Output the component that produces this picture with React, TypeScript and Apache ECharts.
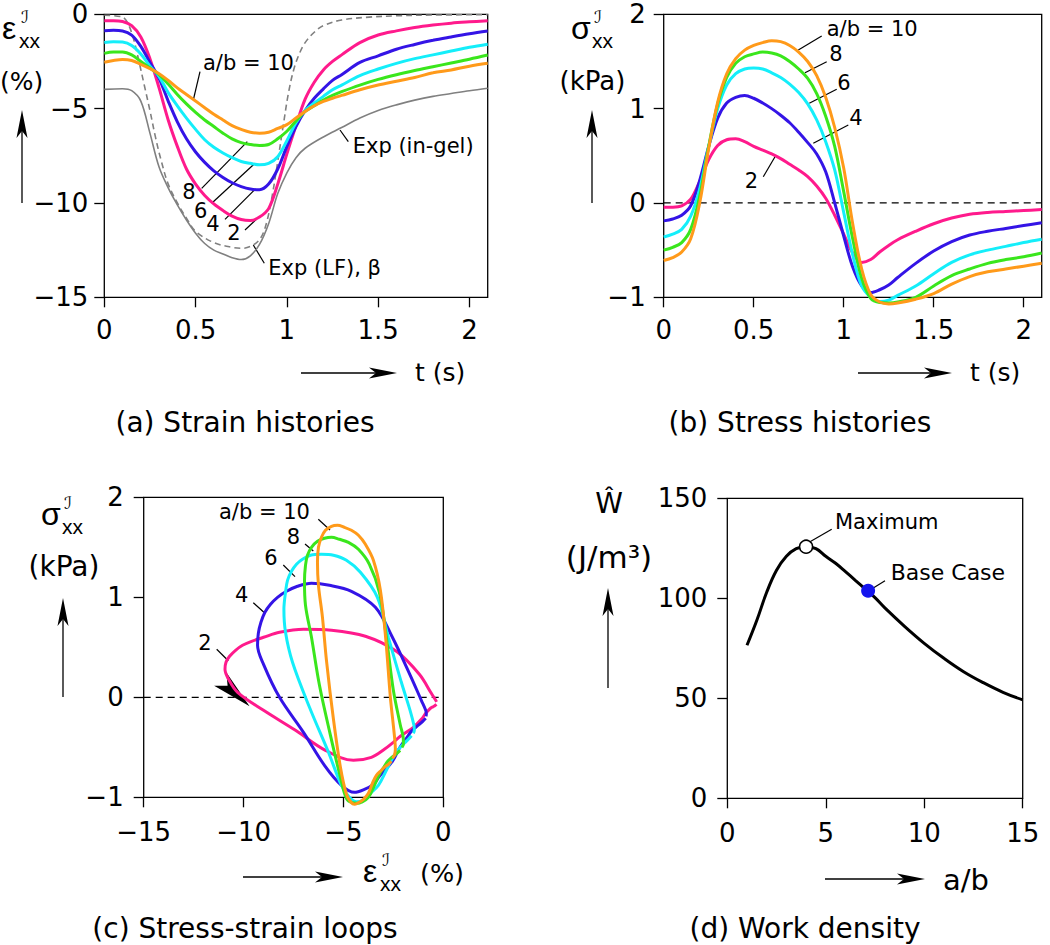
import React, { useEffect, useRef } from 'react';
import * as echarts from 'echarts';

// ---------- data ----------
const T = [0, 0.05, 0.1, 0.15, 0.2, 0.25, 0.3, 0.35, 0.4, 0.45, 0.5, 0.55, 0.6, 0.65, 0.7, 0.75, 0.8, 0.85, 0.9, 0.95, 1.0, 1.05, 1.1, 1.15, 1.2, 1.25, 1.3, 1.4, 1.5, 1.6, 1.7, 1.8, 1.9, 2.0, 2.1];

const RATIOS = ['2', '4', '6', '8', '10'];
const COLORS = ['#ff1a8c', '#3414e6', '#14eefa', '#3ae61c', '#ff9a1a'];

const STRAIN_2 = [-0.34, -0.34, -0.38, -0.6, -1.2, -2.35, -3.9, -5.6, -7.0, -8.2, -9.0, -9.6, -10.05, -10.4, -10.7, -10.88, -10.93, -10.75, -10.3, -9.0, -7.4, -5.9, -4.5, -3.6, -2.95, -2.5, -2.15, -1.5, -1.1, -0.88, -0.7, -0.57, -0.47, -0.4, -0.34];
const STRAIN_4 = [-0.87, -0.85, -0.88, -1.1, -1.7, -2.55, -3.4, -4.6, -5.7, -6.6, -7.3, -7.85, -8.3, -8.65, -8.93, -9.13, -9.26, -9.3, -9.0, -8.2, -7.0, -5.95, -5.1, -4.45, -3.95, -3.5, -3.2, -2.55, -2.2, -1.85, -1.6, -1.38, -1.2, -1.03, -0.88];
const STRAIN_6 = [-1.5, -1.45, -1.47, -1.65, -2.1, -2.75, -3.3, -4.15, -4.85, -5.5, -6.1, -6.65, -7.05, -7.35, -7.6, -7.8, -7.9, -7.98, -7.9, -7.55, -6.7, -5.75, -5.1, -4.7, -4.35, -4.0, -3.75, -3.25, -2.9, -2.6, -2.35, -2.15, -1.95, -1.75, -1.59];
const STRAIN_8 = [-2.07, -2.0, -2.0, -2.15, -2.5, -2.85, -3.2, -3.7, -4.25, -4.75, -5.2, -5.6, -5.95, -6.3, -6.6, -6.8, -6.9, -6.95, -6.9, -6.6, -6.2, -5.65, -5.15, -4.85, -4.55, -4.3, -4.1, -3.75, -3.45, -3.2, -2.98, -2.78, -2.58, -2.38, -2.16];
const STRAIN_10 = [-2.54, -2.45, -2.4, -2.45, -2.65, -2.88, -3.15, -3.5, -3.9, -4.25, -4.6, -4.95, -5.3, -5.6, -5.9, -6.1, -6.25, -6.3, -6.25, -6.05, -5.85, -5.5, -5.15, -4.85, -4.62, -4.45, -4.3, -4.0, -3.75, -3.55, -3.35, -3.1, -2.95, -2.75, -2.6];

const STRESS_2 = [-0.046, -0.045, -0.03, 0.04, 0.23, 0.46, 0.61, 0.67, 0.68, 0.65, 0.6, 0.56, 0.52, 0.47, 0.41, 0.35, 0.28, 0.18, 0.05, -0.13, -0.33, -0.53, -0.63, -0.6, -0.52, -0.45, -0.39, -0.3, -0.22, -0.16, -0.12, -0.1, -0.09, -0.08, -0.07];
const STRESS_4 = [-0.19, -0.17, -0.13, -0.03, 0.24, 0.6, 0.9, 1.06, 1.12, 1.14, 1.11, 1.06, 1.0, 0.93, 0.85, 0.75, 0.64, 0.52, 0.33, 0.0, -0.35, -0.68, -0.88, -0.95, -0.92, -0.87, -0.79, -0.64, -0.51, -0.41, -0.34, -0.3, -0.27, -0.24, -0.21];
const STRESS_6 = [-0.36, -0.33, -0.28, -0.14, 0.15, 0.6, 1.0, 1.25, 1.37, 1.42, 1.43, 1.42, 1.38, 1.33, 1.26, 1.17, 1.05, 0.88, 0.65, 0.35, -0.1, -0.55, -0.88, -1.0, -1.045, -1.03, -0.98, -0.88, -0.75, -0.63, -0.55, -0.5, -0.46, -0.42, -0.385];
const STRESS_8 = [-0.5, -0.47, -0.42, -0.28, 0.07, 0.6, 1.05, 1.33, 1.48, 1.55, 1.58, 1.6, 1.59, 1.56, 1.5, 1.42, 1.32, 1.16, 0.92, 0.6, 0.12, -0.38, -0.8, -1.01, -1.055, -1.06, -1.05, -1.0, -0.88, -0.77, -0.7, -0.64, -0.6, -0.57, -0.53];
const STRESS_10 = [-0.61, -0.58, -0.52, -0.38, 0.0, 0.58, 1.07, 1.37, 1.53, 1.62, 1.67, 1.7, 1.72, 1.71, 1.67, 1.6, 1.5, 1.35, 1.12, 0.8, 0.37, -0.22, -0.7, -0.97, -1.05, -1.07, -1.06, -1.02, -0.96, -0.86, -0.78, -0.73, -0.7, -0.67, -0.64];

const STRAINS = [STRAIN_2, STRAIN_4, STRAIN_6, STRAIN_8, STRAIN_10];
const STRESSES = [STRESS_2, STRESS_4, STRESS_6, STRESS_8, STRESS_10];

// experiments (panel a)
const EXP_GEL_T = [0, 0.1, 0.15, 0.2, 0.25, 0.3, 0.35, 0.4, 0.45, 0.5, 0.55, 0.6, 0.65, 0.7, 0.75, 0.8, 0.85, 0.9, 0.95, 1.0, 1.05, 1.1, 1.2, 1.3, 1.4, 1.5, 1.6, 1.7, 1.8, 1.9, 2.0, 2.1];
const EXP_GEL = [-3.98, -3.95, -4.05, -4.6, -6.3, -8.1, -9.2, -10.1, -10.9, -11.6, -12.15, -12.5, -12.7, -12.9, -13.0, -12.8, -12.2, -11.1, -9.5, -8.4, -7.6, -7.1, -6.5, -6.0, -5.5, -5.1, -4.8, -4.55, -4.35, -4.2, -4.05, -3.92];
const EXP_LF_T = [0, 0.1, 0.13, 0.16, 0.19, 0.22, 0.25, 0.28, 0.31, 0.35, 0.4, 0.45, 0.5, 0.6, 0.7, 0.76, 0.82, 0.86, 0.89, 0.92, 0.95, 0.98, 1.01, 1.04, 1.07, 1.1, 1.15, 1.2, 1.3, 1.45, 1.6, 1.8, 2.1];
const EXP_LF = [-0.05, -0.15, -0.5, -1.3, -2.5, -3.8, -5.1, -6.5, -7.7, -9.0, -10.0, -10.8, -11.5, -12.1, -12.35, -12.4, -12.2, -11.8, -11.0, -9.6, -7.8, -5.9, -4.1, -2.85, -2.05, -1.5, -0.95, -0.6, -0.3, -0.15, -0.08, -0.04, -0.02];

// panel d
const AB = [1, 1.5, 2, 2.5, 3, 3.5, 4, 4.5, 5, 5.5, 6, 6.5, 7, 7.5, 8, 9, 10, 11, 12, 13, 14, 15];
const WORK = [76.5, 89, 103, 114, 121, 124.8, 125.8, 124.8, 121, 117.5, 113.3, 109, 104.7, 100.3, 95.2, 86, 77.5, 70, 63.3, 57.8, 53, 49.2];
const MAX_POINT = [4, 125.8];
const BASE_POINT = [7.15, 103.8];

// ticks
const TICKS_T = [0, 0.5, 1, 1.5, 2];
const TICKS_STRAIN = [-15, -10, -5, 0];
const TICKS_STRESS = [-1, 0, 1, 2];
const TICKS_AB = [0, 5, 10, 15];
const TICKS_W = [0, 50, 100, 150];

const LOOP_ARROW = [[-11.1, 0.17], [-9.7, -0.09]];

// ---------- style ----------
const FONT = "'DejaVu Sans', Verdana, sans-serif";
const SYM_FONT = "'Liberation Sans', Arial, Helvetica, sans-serif";

const GRIDS = [
  { left: 104.3, top: 14.3, width: 383.4, height: 283 },
  { left: 663.7, top: 14.3, width: 378, height: 283 },
  { left: 143.7, top: 497.3, width: 299.6, height: 300 },
  { left: 727.3, top: 498.3, width: 295.4, height: 300 },
];

const fmt = (v: number) => (v < 0 ? '\u2212' : '') + String(Math.round(Math.abs(v) * 100) / 100);

function axis(gi: number, min: number, max: number, ticks: number[], margin: number) {
  return {
    type: 'value', gridIndex: gi, min, max,
    axisLine: { show: false, onZero: false },
    splitLine: { show: false },
    axisTick: { show: true, length: 10, customValues: ticks, lineStyle: { color: '#000', width: 1.3 } },
    axisLabel: { customValues: ticks, margin, fontSize: 26, fontFamily: FONT, color: '#000', formatter: fmt },
  };
}

function txt(text: string, x: number, y: number, size: number, align = 'left', extra: any = {}) {
  return {
    type: 'text', x, y, silent: true,
    style: { text, fontSize: size, fontFamily: FONT, fill: '#000', align, verticalAlign: 'middle', textAlign: align, textVerticalAlign: 'middle', ...extra },
  };
}
function seg(x1: number, y1: number, x2: number, y2: number, w = 1.2) {
  return { type: 'line', silent: true, shape: { x1, y1, x2, y2 }, style: { stroke: '#000', lineWidth: w } };
}
function head(tx: number, ty: number, dx: number, dy: number, L: number, W: number) {
  const n = Math.hypot(dx, dy); const ux = dx / n, uy = dy / n; const px = -uy, py = ux;
  return {
    type: 'polygon', silent: true,
    shape: { points: [[tx, ty], [tx - L * ux + W * px, ty - L * uy + W * py], [tx - 0.75 * L * ux, ty - 0.75 * L * uy], [tx - L * ux - W * px, ty - L * uy - W * py]] },
    style: { fill: '#000' },
  };
}
function arrowH(x1: number, x2: number, y: number) { return [seg(x1, y, x2 - 10, y, 1.3), head(x2, y, 1, 0, 28, 5.5)]; }
function arrowV(x: number, y1: number, y2: number) { return [seg(x, y1, x, y2 + 10, 1.3), head(x, y2, 0, -1, 28, 5.5)]; }

// base glyph with stacked superscript (script I) and subscript (xx); yBase = baseline of base glyph
function sym(base: string, x: number, yBase: number, bigSize = 32) {
  const w = base === '\u03b5' ? 17 : 21;
  return [
    txt(base, x, yBase - 0.35 * bigSize, bigSize, 'left', { fontFamily: SYM_FONT }),
    txt('\u2110', x + w + 2, yBase - 16 - 0.35 * 17, 17, 'left', { fontFamily: "'DejaVu Serif', 'DejaVu Sans', serif", fontStyle: 'italic' }),
    txt('xx', x + w, yBase + 8.5 - 0.35 * 21, 21, 'left', { fontFamily: SYM_FONT }),
  ];
}

function buildGraphics(loopArrow: any[]) {
  const g: any[] = [];
  // panel a
  g.push(...sym('\u03b5', 2, 39), txt('(%)', 21.5, 81, 25, 'center'), ...arrowV(22, 203, 110), ...arrowH(301, 397, 373), txt('t (s)', 415, 372, 25));
  g.push(txt('a/b = 10', 203, 63, 21), seg(193.3, 100, 200, 71.7));
  g.push(txt('8', 189, 192, 21, 'center'), seg(201.7, 188.3, 247.3, 141.7));
  g.push(txt('6', 200.8, 210.8, 21, 'center'), seg(211.7, 203.3, 255, 163.3));
  g.push(txt('4', 213, 224, 21, 'center'), seg(225, 219.3, 255, 189.3));
  g.push(txt('2', 234, 233.3, 21, 'center'), seg(245, 230, 256.7, 219));
  g.push(txt('Exp (in-gel)', 352.7, 146, 21), seg(340, 130, 348.3, 141.7));
  g.push(txt('Exp (LF), \u03b2', 268.3, 267.5, 21), seg(253.3, 245, 264.3, 263.3));
  // panel b
  g.push(...sym('\u03c3', 571, 39), txt('(kPa)', 592.5, 81, 26, 'center'), ...arrowV(592, 203, 110), ...arrowH(858, 952, 373), txt('t (s)', 970, 372, 25));
  g.push(txt('a/b = 10', 826.7, 29, 21), seg(798.3, 50, 821.7, 36));
  g.push(txt('8', 836, 54, 21, 'center'), seg(805, 72.7, 826.7, 61.7));
  g.push(txt('6', 844, 82.5, 21, 'center'), seg(809.3, 103.3, 836.7, 89.3));
  g.push(txt('4', 856, 117.5, 21, 'center'), seg(813.3, 143.3, 848.3, 125));
  g.push(txt('2', 751.5, 180.7, 21, 'center'), seg(763.3, 176.7, 775, 156.7));
  // panel c
  g.push(...sym('\u03c3', 41, 525), txt('(kPa)', 64, 566, 28, 'center'), ...arrowV(63, 697, 598));
  g.push(...arrowH(243, 343, 877), ...sym('\u03b5', 363, 882), txt('(%)', 442, 873, 25.5, 'center'));
  g.push(txt('a/b = 10', 219, 512, 21), seg(318.3, 519.3, 330, 530));
  g.push(txt('8', 293.5, 536.7, 21, 'center'), seg(305, 544, 313.3, 551));
  g.push(txt('6', 271, 557.5, 21, 'center'), seg(283.3, 565, 295, 576.7));
  g.push(txt('4', 241.7, 594.7, 21, 'center'), seg(253.3, 602.7, 265, 613.3));
  g.push(txt('2', 205, 642.5, 21, 'center'), seg(216.7, 649.3, 228.3, 660.7));
  if (loopArrow.length === 2) {
    const [s, e] = loopArrow;
    g.push(head(e[0], e[1], e[0] - s[0], e[1] - s[1], 40, 9));
  }
  // panel d
  g.push(txt('\u0174', 609, 503, 28, 'center'), txt('(J/m\u00b3)', 609, 557, 31, 'center'), ...arrowV(608, 688, 588), ...arrowH(825, 925, 879), txt('a/b', 943, 880, 29));
  g.push(txt('Maximum', 835, 521.5, 21), seg(810, 541.7, 831.7, 529.3));
  g.push(txt('Base Case', 890.7, 572.3, 22), seg(870, 590, 885, 580.7));
  // captions
  const cap = (t: string, x: number, y: number) => txt(t, x, y, 28, 'center');
  g.push(cap('(a) Strain histories', 245, 422), cap('(b) Stress histories', 800, 422), cap('(c) Stress-strain loops', 245, 928), cap('(d) Work density', 805, 928));
  return g;
}

function buildOption() {
  const series: any[] = [];
  series.push({ type: 'line', xAxisIndex: 0, yAxisIndex: 0, data: EXP_GEL_T.map((t, i) => [t, EXP_GEL[i]]), showSymbol: false, smooth: 0.35, lineStyle: { color: '#808080', width: 1.6 }, silent: true });
  series.push({ type: 'line', xAxisIndex: 0, yAxisIndex: 0, data: EXP_LF_T.map((t, i) => [t, EXP_LF[i]]), showSymbol: false, smooth: 0.35, lineStyle: { color: '#808080', width: 1.6, type: [6, 4] }, silent: true });
  series.push({ type: 'line', xAxisIndex: 1, yAxisIndex: 1, data: [[0, 0], [2.1, 0]], showSymbol: false, lineStyle: { color: '#000', width: 1.3, type: [7, 5] }, silent: true });
  series.push({ type: 'line', xAxisIndex: 2, yAxisIndex: 2, data: [[-15, 0], [0, 0]], showSymbol: false, lineStyle: { color: '#000', width: 1.3, type: [7, 5] }, silent: true });
  RATIOS.forEach((r, k) => {
    const common = { type: 'line', showSymbol: false, clip: false, silent: true, lineStyle: { color: COLORS[k], width: 3 }, name: 'a/b=' + r };
    series.push({ ...common, xAxisIndex: 0, yAxisIndex: 0, smooth: 0.35, data: T.map((t, i) => [t, STRAINS[k][i]]) });
    series.push({ ...common, xAxisIndex: 1, yAxisIndex: 1, smooth: 0.35, data: T.map((t, i) => [t, STRESSES[k][i]]) });
    series.push({ ...common, xAxisIndex: 2, yAxisIndex: 2, smooth: 0.35, data: T.map((_, i) => [STRAINS[k][i], STRESSES[k][i]]) });
  });
  series.push({ type: 'line', xAxisIndex: 3, yAxisIndex: 3, data: AB.map((a, i) => [a, WORK[i]]), showSymbol: false, smooth: 0.4, lineStyle: { color: '#000', width: 3 }, silent: true, z: 2 });
  series.push({ type: 'scatter', xAxisIndex: 3, yAxisIndex: 3, data: [MAX_POINT], symbolSize: 13, itemStyle: { color: '#ffffff', opacity: 1, borderColor: '#000', borderWidth: 1.5 }, silent: true, z: 10 });
  series.push({ type: 'scatter', xAxisIndex: 3, yAxisIndex: 3, data: [BASE_POINT], symbolSize: 14, itemStyle: { color: '#1414ee', opacity: 1 }, silent: true, z: 10 });

  return {
    animation: false,
    backgroundColor: '#fff',
    grid: GRIDS.map((g) => ({ ...g, show: true, borderColor: '#000', borderWidth: 1.3, backgroundColor: 'transparent', containLabel: false })),
    xAxis: [axis(0, 0, 2.1, TICKS_T, 20), axis(1, 0, 2.1, TICKS_T, 20), axis(2, -15, 0, TICKS_STRAIN, 22), axis(3, 0, 15, TICKS_AB, 22)],
    yAxis: [axis(0, -15, 0, TICKS_STRAIN, 16), axis(1, -1, 2, TICKS_STRESS, 18), axis(2, -1, 2, TICKS_STRESS, 20), axis(3, 0, 150, TICKS_W, 20)],
    series,
  };
}

export default function App() {
  const ref = useRef<HTMLDivElement>(null);
  useEffect(() => {
    if (!ref.current) return;
    const chart = echarts.init(ref.current, null, { renderer: 'svg' });
    chart.setOption(buildOption() as any);
    let arrowPts: any[] = [];
    try {
      arrowPts = LOOP_ARROW.map((p) => chart.convertToPixel({ gridIndex: 2 } as any, p) as any);
    } catch (e) { arrowPts = []; }
    chart.setOption({ graphic: { elements: buildGraphics(arrowPts) } } as any);
    return () => chart.dispose();
  }, []);
  return <div ref={ref} style={{ position: 'absolute', left: 0, top: 0, width: 1050, height: 945, background: '#fff' }} />;
}
